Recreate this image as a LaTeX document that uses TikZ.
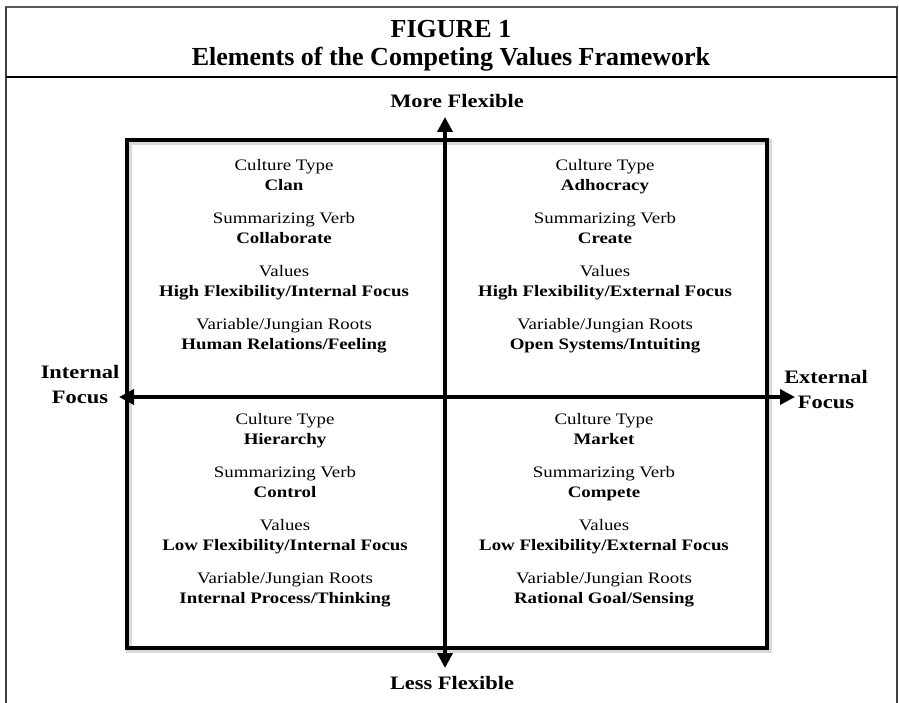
\documentclass[tikz,border=0pt]{standalone}
\usepackage{fontspec}
\setmainfont{Liberation Serif}
\newfontfamily\bodyfont[FakeStretch=1.18]{Liberation Serif}
\usetikzlibrary{arrows.meta}

\tikzset{
  frameline/.style={line width=1.2pt, black!75},
  quadtext/.style={align=center, inner sep=0pt, font=\bodyfont\fontsize{16}{20}\selectfont},
  axislabel/.style={align=center, inner sep=0pt, font=\bodyfont\bfseries\fontsize{19}{25}\selectfont},
  titletext/.style={anchor=base, inner sep=0pt, font=\bfseries\fontsize{26}{30}\selectfont},
  shadowed/.style={preaction={draw=black!15, line width=6pt, transform canvas={shift={(2pt,-2pt)}}}},
  axis/.style={line width=3.5pt, {Triangle[length=15pt,width=15pt]}-{Triangle[length=15pt,width=15pt]}},
}

\begin{document}
\begin{tikzpicture}[x=1pt,y=-1pt]
\useasboundingbox (0,0) rectangle (899,703);

% frame and heading
\draw[line width=2.5pt, black!65] (5,7) -- (898,7);
\draw[frameline] (6,7) -- (6,703);
\draw[frameline] (897,7) -- (897,703);
\draw[line width=1.5pt] (6,77) -- (897,77);
\node[titletext] (tfig) at (451,38) {FIGURE 1};
\node[titletext] (ttitle) at (451,66) {Elements of the Competing Values Framework};

% box and axes
\draw[line width=3.5pt, shadowed] (127,140) rectangle (767,648);
\coordinate (top) at (445,117);
\coordinate (bot) at (445,668);
\coordinate (lft) at (119,397);
\coordinate (rgt) at (795,397);
\draw[axis] (bot) -- (top);
\draw[axis] (lft) -- (rgt);

\node[axislabel, anchor=base] (lmore) at (457,108) {More Flexible};
\node[axislabel, anchor=base] (lless) at (452,689) {Less Flexible};
\node[axislabel] (lint) at (80,385) {Internal\\Focus};
\node[axislabel] (lext) at (826,390) {External\\Focus};

% quadrants
\node[quadtext] (qclan) at (284,256) {Culture Type\\\textbf{Clan}\\[13pt]
  Summarizing Verb\\\textbf{Collaborate}\\[13pt]
  Values\\\textbf{High Flexibility/Internal Focus}\\[13pt]
  Variable/Jungian Roots\\\textbf{Human Relations/Feeling}};
\node[quadtext] (qadhoc) at (605,256) {Culture Type\\\textbf{Adhocracy}\\[13pt]
  Summarizing Verb\\\textbf{Create}\\[13pt]
  Values\\\textbf{High Flexibility/External Focus}\\[13pt]
  Variable/Jungian Roots\\\textbf{Open Systems/Intuiting}};
\node[quadtext] (qhier) at (285,510) {Culture Type\\\textbf{Hierarchy}\\[13pt]
  Summarizing Verb\\\textbf{Control}\\[13pt]
  Values\\\textbf{Low Flexibility/Internal Focus}\\[13pt]
  Variable/Jungian Roots\\\textbf{Internal Process/Thinking}};
\node[quadtext] (qmarket) at (604,510) {Culture Type\\\textbf{Market}\\[13pt]
  Summarizing Verb\\\textbf{Compete}\\[13pt]
  Values\\\textbf{Low Flexibility/External Focus}\\[13pt]
  Variable/Jungian Roots\\\textbf{Rational Goal/Sensing}};

\end{tikzpicture}
\end{document}
